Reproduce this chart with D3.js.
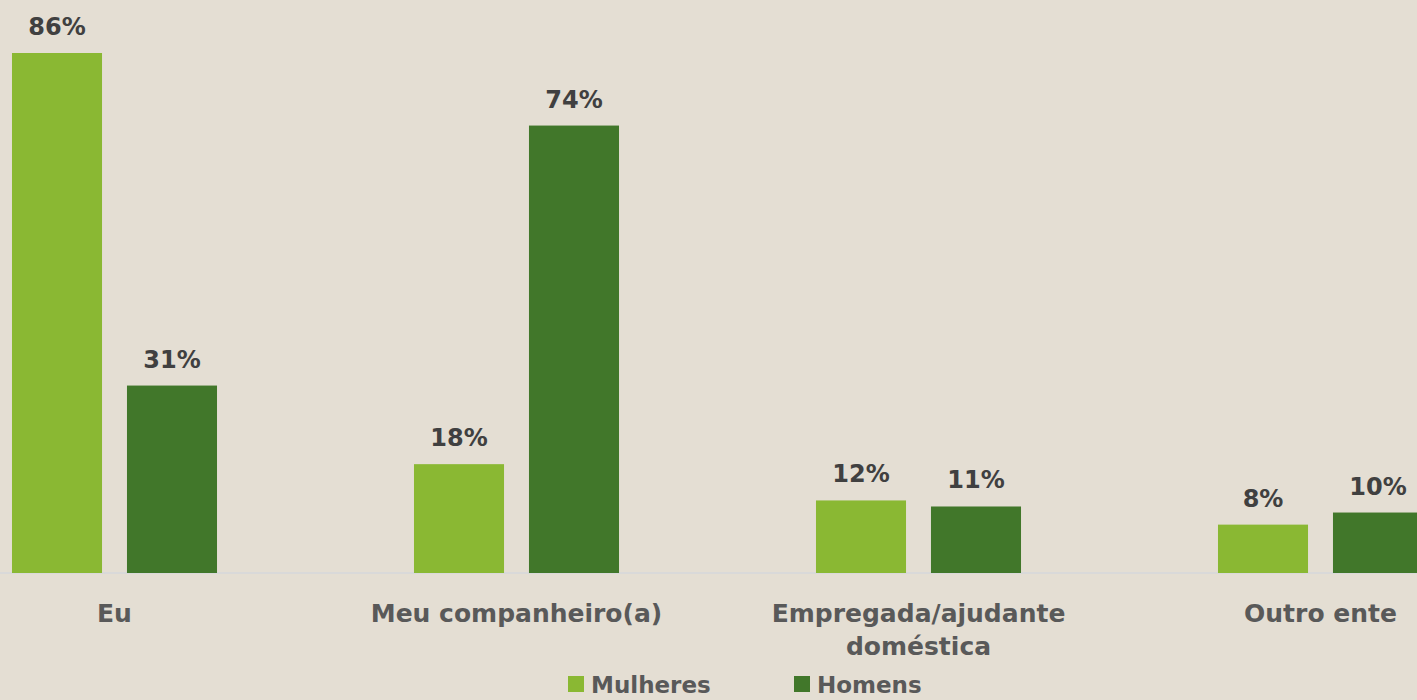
<!DOCTYPE html>
<html>
<head>
<meta charset="utf-8">
<script src="https://cdn.jsdelivr.net/npm/d3@7"></script>
<style>
  body { margin: 0; background: #e4ded3; overflow: hidden; }
  svg { display: block; font-family: "DejaVu Sans", sans-serif; font-weight: bold; }
</style>
</head>
<body>
<div id="chart"></div>
<script>
const categories = ["Eu", "Meu companheiro(a)", "Empregada/ajudante doméstica", "Outro ente"];
const categoryLines = [["Eu"], ["Meu companheiro(a)"], ["Empregada/ajudante", "doméstica"], ["Outro ente"]];
const series = ["Mulheres", "Homens"];
const mulheres = [86, 18, 12, 8];
const homens = [31, 74, 11, 10];
const colors = ["#8ab833", "#41772a"];

const width = 1417, height = 700;
const baseline = 573;

const svg = d3.select("#chart")
  .append("svg")
  .attr("width", width)
  .attr("height", height);

svg.append("rect")
  .attr("width", width)
  .attr("height", height)
  .attr("fill", "#e4ded3");

const x = d3.scaleBand()
  .domain(categories)
  .range([-86.5, 1521.5])
  .paddingInner(0.49)
  .paddingOuter(0.245);

const xSub = d3.scaleBand()
  .domain(series)
  .range([0, x.bandwidth()])
  .paddingInner(0.217);

const y = d3.scaleLinear()
  .domain([0, 86])
  .range([baseline, 53]);

const rows = categories.map((c, i) => ({ cat: c, values: [mulheres[i], homens[i]] }));

// axis line
svg.append("line")
  .attr("x1", 0)
  .attr("x2", width)
  .attr("y1", baseline)
  .attr("y2", baseline)
  .attr("stroke", "#d9d9d9")
  .attr("stroke-width", 2);

const group = svg.selectAll(".group")
  .data(rows)
  .enter()
  .append("g")
  .attr("class", "group")
  .attr("transform", d => `translate(${x(d.cat)},0)`);

const bars = group.selectAll(".bar")
  .data(d => d.values.map((v, j) => ({ s: series[j], v: v, j: j })))
  .enter();

bars.append("rect")
  .attr("x", d => xSub(d.s))
  .attr("y", d => y(d.v))
  .attr("width", xSub.bandwidth())
  .attr("height", d => baseline - y(d.v))
  .attr("fill", d => colors[d.j]);

bars.append("text")
  .attr("x", d => xSub(d.s) + xSub.bandwidth() / 2)
  .attr("y", d => y(d.v) - 18)
  .attr("text-anchor", "middle")
  .attr("fill", "#404040")
  .style("font-size", "24px")
  .text(d => d.v + "%");

// category labels
const labels = svg.selectAll(".cat")
  .data(categories)
  .enter()
  .append("text")
  .attr("class", "cat")
  .attr("text-anchor", "middle")
  .attr("fill", "#595959")
  .style("font-size", "25px");

labels.selectAll("tspan")
  .data((d, i) => categoryLines[i].map(t => ({ t: t, c: d })))
  .enter()
  .append("tspan")
  .attr("x", d => x(d.c) + x.bandwidth() / 2)
  .attr("y", (d, k) => 622 + k * 33)
  .text(d => d.t);

// legend
const legendX = [568, 794];
const legend = svg.selectAll(".legend")
  .data(series)
  .enter()
  .append("g")
  .attr("class", "legend")
  .attr("transform", (d, i) => `translate(${legendX[i]},676)`);

legend.append("rect")
  .attr("width", 16)
  .attr("height", 16)
  .attr("fill", (d, i) => colors[i]);

legend.append("text")
  .attr("x", 23)
  .attr("y", 17)
  .attr("fill", "#595959")
  .style("font-size", "23px")
  .text(d => d);
</script>
</body>
</html>
